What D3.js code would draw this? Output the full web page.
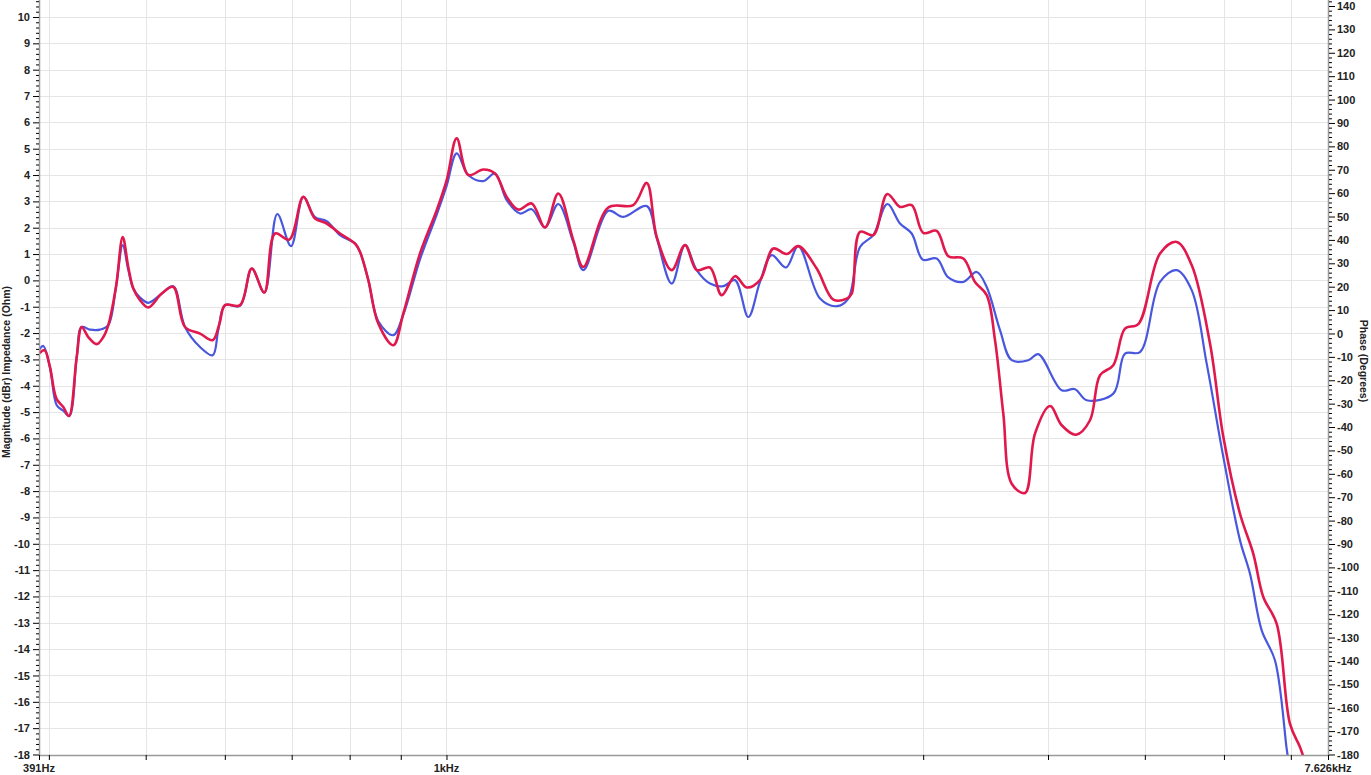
<!DOCTYPE html>
<html><head><meta charset="utf-8">
<script src="https://cdn.jsdelivr.net/npm/d3@7"></script>
<style>
body{margin:0;background:#fff;}
svg{display:block;font-family:"Liberation Sans",Arial,sans-serif;}
</style>
</head><body>
<svg id="c" width="1371" height="775"></svg>
<script>
// ---------- data ----------
const magTicks = [-18,-17,-16,-15,-14,-13,-12,-11,-10,-9,-8,-7,-6,-5,-4,-3,-2,-1,0,1,2,3,4,5,6,7,8,9,10];
const phaseTicks = [-180,-170,-160,-150,-140,-130,-120,-110,-100,-90,-80,-70,-60,-50,-40,-30,-20,-10,0,10,20,30,40,50,60,70,80,90,100,110,120,130,140];
const freqGrid = [400,500,600,700,800,900,1000,2000,3000,4000,5000,6000,7000];
const freqLabelValues = [391,1000,7626];
const freqLabelTexts = ["391Hz","1kHz","7.626kHz"];

const blueFreq = [391,394.9,401,407.3,413.5,419.3,426.5,431.4,439.8,450,458.7,466.9,474.2,480.3,485.9,493.5,503,518.8,532.8,547.4,566.7,583.5,591,600.3,621.4,638.4,657.2,677.1,698.9,719,738.6,758.8,782.4,810,819.4,835.2,854.6,884.7,905.3,940.8,977.8,1000.5,1023.9,1051.6,1088.6,1118.3,1148.9,1184.7,1217,1254.9,1294,1339.5,1370.7,1452,1503.1,1586.4,1623.4,1680.5,1732.8,1780.1,1835.5,1892.7,1944.4,2004.9,2059.7,2116,2186.9,2249.8,2365.1,2457.9,2524.5,2593.5,2674.3,2761.9,2844,2921.7,2996.8,3095,3178.9,3290.6,3393.9,3473,3581.1,3679,3822.5,3911.6,4128.3,4256.8,4373.1,4649.6,4776.7,4944.7,5177.9,5381.1,5570.3,5766.2,5991.2,6226.2,6371.4,6545.5,6749.3,6933.7,6970.6];
const blueMag = [-2.65,-2.49,-3.3,-4.74,-4.95,-5.15,-2.91,-1.77,-1.87,-1.87,-1.70,-0.25,1.34,0.4,-0.31,-0.65,-0.85,-0.50,-0.22,-1.77,-2.53,-2.84,-1.89,-0.94,-0.97,0.45,-0.46,2.52,1.30,3.17,2.40,2.25,1.72,1.40,1.08,0.01,-1.55,-2.08,-1.3,0.8,2.5,3.6,4.82,4.0,3.77,4.06,3.05,2.54,2.70,2.01,2.9,1.45,0.39,2.64,2.41,2.82,1.6,-0.12,1.34,0.39,-0.12,-0.22,0.01,-1.39,-0.06,0.96,0.49,1.30,-0.69,-0.98,-0.69,1.27,1.72,2.90,2.16,1.78,0.79,0.83,0.11,-0.06,0.32,-0.25,-1.89,-3.03,-3.03,-2.80,-4.17,-4.13,-4.55,-4.30,-2.78,-2.72,-0.06,0.39,-0.37,-3.16,-6.70,-9.87,-11.14,-13.29,-14.43,-17.79,-18.4];

const redFreq = [391,396,401,407,413.5,419,426.5,431.4,438,446.6,453.5,458.7,466.9,474.2,480.3,485.9,493.5,503,518.8,532.8,547.4,566.7,583.5,592.7,600.3,621.4,638.4,657.2,673.6,696.1,719,738.6,758.8,782.4,810,819.4,835.2,854.6,884.7,905.3,940.8,977.8,1000.5,1023.9,1051.6,1088.6,1118.3,1148.9,1180,1217,1254.9,1294,1339.5,1370.7,1452,1538.1,1586.4,1623.4,1680.5,1732.8,1780.1,1835.5,1885.7,1944.4,1997.6,2059.7,2123.8,2190.4,2249.8,2347.2,2438.8,2515.2,2544.4,2593.5,2674.3,2761.9,2844,2921.7,3000.9,3095,3178.9,3290.6,3380.6,3473,3540.1,3608.4,3679,3793.5,3881.9,4018.5,4128.3,4266.6,4406.5,4509.3,4649.6,4776.7,4925.3,5177.9,5381.1,5570.3,5810.3,5991.2,6226.2,6420.1,6569.7,6775.8,6986.7,7149.6,7249.1];
const redMag = [-2.78,-2.65,-3.29,-4.49,-4.81,-5.15,-2.91,-1.77,-2.15,-2.42,-2.15,-1.70,-0.25,1.65,0.51,-0.31,-0.75,-1.03,-0.50,-0.25,-1.77,-2.02,-2.27,-1.64,-0.94,-0.94,0.45,-0.46,1.78,1.55,3.17,2.35,2.16,1.78,1.40,1.08,0.01,-1.64,-2.46,-1.26,1.02,2.67,3.81,5.39,4.0,4.21,4.06,3.17,2.69,2.92,2.01,3.30,1.53,0.51,2.77,2.86,3.70,1.65,0.39,1.34,0.39,0.49,-0.56,0.16,-0.27,0.01,1.21,1.0,1.30,0.45,-0.73,-0.69,-0.50,1.84,1.72,3.28,2.79,2.86,1.80,1.88,0.92,0.83,-0.06,-0.56,-2.27,-5.06,-7.72,-8.07,-5.82,-4.77,-5.50,-5.86,-5.31,-3.60,-3.22,-1.83,-1.66,1.02,1.46,0.58,-2.40,-5.94,-8.86,-10.38,-12.02,-13.04,-16.84,-17.72,-18.4];

// ---------- layout ----------
const L = 39, R = 1328, T = 0, B = 755;
const svg = d3.select("#c");
const x = d3.scaleLog().domain([391, 7626]).range([L, R]);
const yL = d3.scaleLinear().domain([-18, 10]).range([754.5, 17]);
const yR = d3.scaleLinear().domain([-180, 140]).range([754.5, 6]);

// grid
const grid = svg.append("g").attr("stroke", "#e5e5e5").attr("stroke-width", 1);
grid.selectAll("line.h").data(magTicks).join("line")
  .attr("x1", L).attr("x2", R)
  .attr("y1", d => Math.round(yL(d)) + 0.5).attr("y2", d => Math.round(yL(d)) + 0.5);
grid.selectAll("line.v").data(freqGrid).join("line")
  .attr("y1", T).attr("y2", B)
  .attr("x1", d => Math.round(x(d)) + 0.5).attr("x2", d => Math.round(x(d)) + 0.5);

// clip
svg.append("clipPath").attr("id", "clip").append("rect")
  .attr("x", L).attr("y", T).attr("width", R - L).attr("height", B - T);

const line = d3.line().curve(d3.curveCatmullRom.alpha(0.5))
  .x(d => x(d[0])).y(d => yL(d[1]));

const blue = blueFreq.map((f, i) => [f, blueMag[i]]);
const red = redFreq.map((f, i) => [f, redMag[i]]);

const plot = svg.append("g").attr("clip-path", "url(#clip)");
plot.append("path").datum(blue).attr("d", line)
  .attr("fill", "none").attr("stroke", "#4857dd").attr("stroke-width", 2.2).attr("stroke-linejoin", "round");
plot.append("path").datum(red).attr("d", line)
  .attr("fill", "none").attr("stroke", "#e1184c").attr("stroke-width", 2.6).attr("stroke-linejoin", "round");

// axes lines
svg.append("line").attr("x1", L + 0.5).attr("x2", L + 0.5).attr("y1", 0).attr("y2", B).attr("stroke", "#9a9a9a").attr("stroke-width", 1.5);
svg.append("line").attr("x1", R + 0.5).attr("x2", R + 0.5).attr("y1", 0).attr("y2", B).attr("stroke", "#9a9a9a").attr("stroke-width", 1.5);
svg.append("line").attr("x1", L).attr("x2", R + 1).attr("y1", B + 0.5).attr("y2", B + 0.5).attr("stroke", "#9a9a9a").attr("stroke-width", 1.5);

const fmt = d => String(d);
// left axis
const minorMag = d3.range(-18, 10.7, 0.2).filter(v => Math.abs(v - Math.round(v)) > 0.01);
const la = svg.append("g").attr("transform", `translate(${L},0)`);
la.call(d3.axisLeft(yL).tickValues(minorMag).tickSize(3).tickFormat(""));
la.call(g => g.select(".domain").remove());
const laM = svg.append("g").attr("transform", `translate(${L},0)`)
  .call(d3.axisLeft(yL).tickValues(magTicks).tickSize(6).tickPadding(3).tickFormat(fmt));
laM.select(".domain").remove();
laM.selectAll("text").attr("font-size", 11).attr("font-weight", "bold").attr("fill", "#222")
  .attr("font-family", "'Liberation Sans',Arial,sans-serif");

// right axis
const minorPh = d3.range(-180, 143, 2).filter(v => v % 10 !== 0);
const ra = svg.append("g").attr("transform", `translate(${R + 1},0)`);
ra.call(d3.axisRight(yR).tickValues(minorPh).tickSize(3).tickFormat(""));
ra.call(g => g.select(".domain").remove());
const raM = svg.append("g").attr("transform", `translate(${R + 1},0)`)
  .call(d3.axisRight(yR).tickValues(phaseTicks).tickSize(6).tickPadding(2).tickFormat(fmt));
raM.select(".domain").remove();
raM.selectAll("text").attr("font-size", 11).attr("font-weight", "bold").attr("fill", "#222")
  .attr("font-family", "'Liberation Sans',Arial,sans-serif");

// bottom axis
const ba = svg.append("g").attr("transform", `translate(0,${B})`)
  .call(d3.axisBottom(x).tickValues([391].concat(freqGrid, [7626])).tickSize(5).tickFormat(""));
ba.select(".domain").remove();
svg.selectAll("text.fl").data(freqLabelValues).join("text").attr("class", "fl")
  .attr("x", d => x(d)).attr("y", 772).attr("text-anchor", "middle")
  .attr("font-size", 11).attr("font-weight", "bold").attr("fill", "#222")
  .text((d, i) => freqLabelTexts[i]);

// axis titles
svg.append("text").attr("transform", "translate(10,372) rotate(-90)")
  .attr("text-anchor", "middle").attr("font-size", 10.5).attr("font-weight", "bold").attr("fill", "#222")
  .text("Magnitude (dBr) Impedance (Ohm)");
svg.append("text").attr("transform", "translate(1360,361) rotate(90)")
  .attr("text-anchor", "middle").attr("font-size", 10.5).attr("font-weight", "bold").attr("fill", "#222")
  .text("Phase (Degrees)");
</script>
</body></html>
